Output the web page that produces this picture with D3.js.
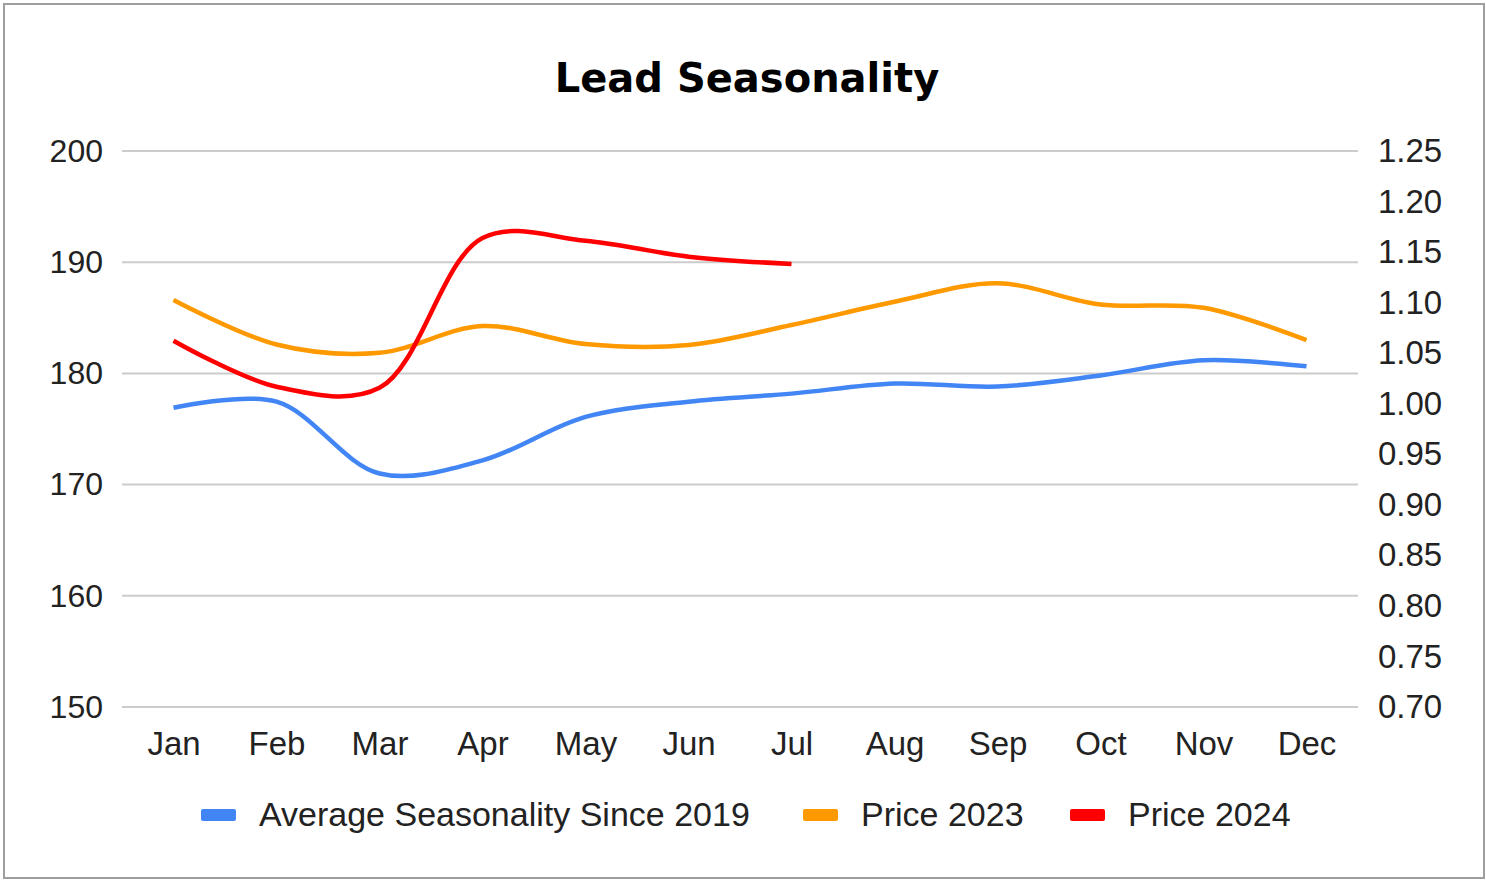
<!DOCTYPE html>
<html>
<head>
<meta charset="utf-8">
<script src="https://cdn.jsdelivr.net/npm/d3@7/dist/d3.min.js"></script>
<style>
  html, body { margin: 0; padding: 0; background: #fff; }
</style>
</head>
<body>
<svg id="chart" width="1486" height="880"></svg>
<script>
const months = ["Jan","Feb","Mar","Apr","May","Jun","Jul","Aug","Sep","Oct","Nov","Dec"];
const avgSeasonality = [0.996, 1.002, 0.931, 0.944, 0.987, 1.002, 1.010, 1.020, 1.017, 1.028, 1.043, 1.037];
const price2023 = [186.6, 182.6, 181.85, 184.26, 182.64, 182.55, 184.35, 186.45, 188.1, 186.2, 185.9, 183.0];
const price2024 = [182.94, 178.8, 178.7, 192.18, 191.93, 190.5, 189.84];
const leftTicks = [150, 160, 170, 180, 190, 200];
const rightTicks = [0.70, 0.75, 0.80, 0.85, 0.90, 0.95, 1.00, 1.05, 1.10, 1.15, 1.20, 1.25];
const seriesNames = ["Average Seasonality Since 2019", "Price 2023", "Price 2024"];
const seriesColors = ["#4285f4", "#ff9900", "#ff0000"];

const svg = d3.select("#chart");

svg.append("rect").attr("x", 4).attr("y", 4).attr("width", 1480).attr("height", 874)
  .attr("fill", "#fff").attr("stroke", "#9e9e9e").attr("stroke-width", 2);

svg.append("text").attr("x", 747).attr("y", 92).attr("text-anchor", "middle")
  .style("font-family", "'DejaVu Sans', Verdana, sans-serif")
  .style("font-size", "40px").style("font-weight", "bold").attr("fill", "#000")
  .text("Lead Seasonality");

const x = d3.scalePoint().domain(months).range([122, 1358]).padding(0.5);
const yL = d3.scaleLinear().domain([150, 200]).range([707, 151]);
const yR = d3.scaleLinear().domain([0.70, 1.25]).range([707, 151]);

// gridlines
svg.append("g").selectAll("line").data(leftTicks).join("line")
  .attr("x1", 122).attr("x2", 1358)
  .attr("y1", d => yL(d)).attr("y2", d => yL(d))
  .attr("stroke", "#cccccc").attr("stroke-width", 2);

const labelFont = "'Liberation Sans', Arial, sans-serif";

// left axis
const gL = svg.append("g").attr("transform", "translate(103,0)")
  .call(d3.axisLeft(yL).tickValues(leftTicks).tickSize(0).tickPadding(0).tickFormat(d3.format("d")));
gL.select(".domain").remove();
gL.selectAll("text").style("font-size", "32px").attr("fill", "#222").style("font-family", labelFont);

// right axis
const gR = svg.append("g").attr("transform", "translate(1378,0)")
  .call(d3.axisRight(yR).tickValues(rightTicks).tickSize(0).tickPadding(0).tickFormat(d3.format(".2f")));
gR.select(".domain").remove();
gR.selectAll("text").style("font-size", "33px").attr("fill", "#222").style("font-family", labelFont);

// x axis
const gX = svg.append("g").attr("transform", "translate(0,732)")
  .call(d3.axisBottom(x).tickSize(0).tickPadding(0));
gX.select(".domain").remove();
gX.selectAll("text").style("font-size", "33px").attr("fill", "#222").style("font-family", labelFont);

const curve = d3.curveCatmullRom.alpha(0.5);
function drawLine(values, yScale, color) {
  const line = d3.line().x((d, i) => x(months[i])).y(d => yScale(d)).curve(curve);
  svg.append("path").datum(values).attr("d", line)
    .attr("fill", "none").attr("stroke", color).attr("stroke-width", 4.5)
    .attr("stroke-linejoin", "round");
}
drawLine(avgSeasonality, yR, seriesColors[0]);
drawLine(price2023, yL, seriesColors[1]);
drawLine(price2024, yL, seriesColors[2]);

// legend
const legendX = [201, 803, 1070];
const leg = svg.append("g");
seriesNames.forEach((name, i) => {
  leg.append("rect").attr("x", legendX[i]).attr("y", 809).attr("width", 35).attr("height", 12)
    .attr("rx", 2).attr("fill", seriesColors[i]);
  leg.append("text").attr("x", legendX[i] + 58).attr("y", 826)
    .style("font-size", "34px").style("font-family", labelFont)
    .attr("fill", "#222").text(name);
});
</script>
</body>
</html>
